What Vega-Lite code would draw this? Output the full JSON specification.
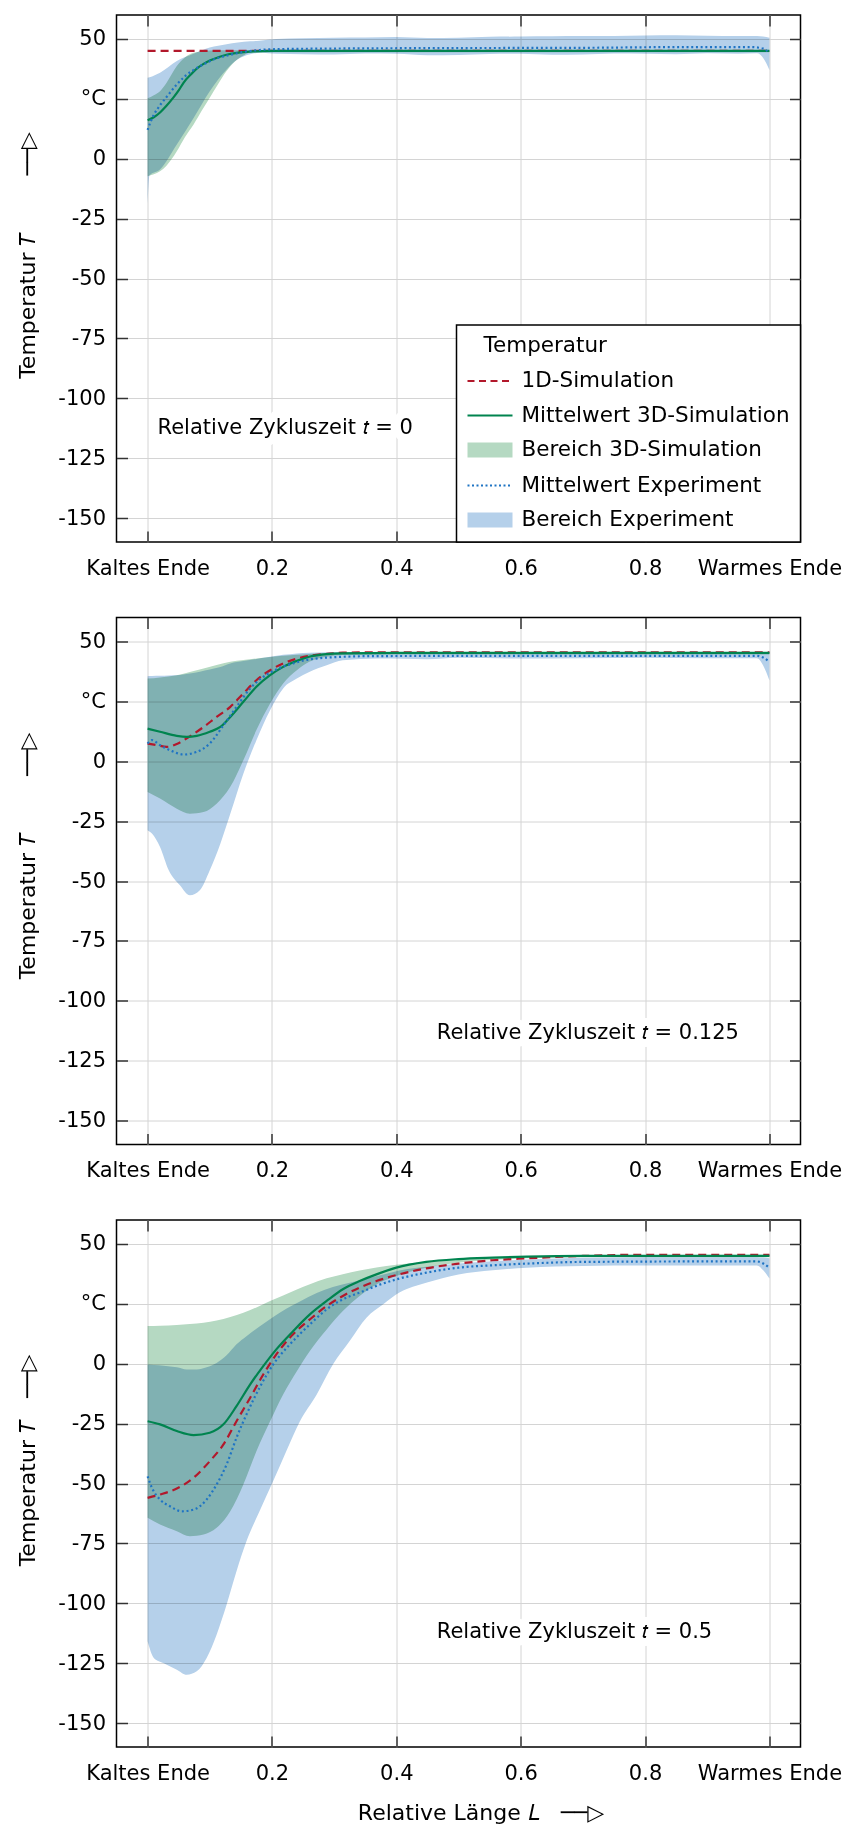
{
"$schema": "https://vega.github.io/schema/vega-lite/v6.json",
"background": "white",
"padding": {"left": 15.5, "top": 13, "right": 0, "bottom": 0},
"spacing": 36.5,
"resolve": {"scale": {"fill": "independent"}, "legend": {"fill": "independent"}},
"datasets": {
"lines": [
{"p":1,"series":"1D-Simulation","x":0,"y":45},{"p":1,"series":"1D-Simulation","x":1,"y":45},
{"p":1,"series":"Mittelwert 3D-Simulation","x":0,"y":16.1},{"p":1,"series":"Mittelwert 3D-Simulation","x":0.01,"y":17.3},{"p":1,"series":"Mittelwert 3D-Simulation","x":0.02,"y":19.3},{"p":1,"series":"Mittelwert 3D-Simulation","x":0.03,"y":22},{"p":1,"series":"Mittelwert 3D-Simulation","x":0.042,"y":25.7},{"p":1,"series":"Mittelwert 3D-Simulation","x":0.05,"y":28.5},{"p":1,"series":"Mittelwert 3D-Simulation","x":0.058,"y":31.8},{"p":1,"series":"Mittelwert 3D-Simulation","x":0.07,"y":35.3},{"p":1,"series":"Mittelwert 3D-Simulation","x":0.08,"y":37.8},{"p":1,"series":"Mittelwert 3D-Simulation","x":0.09,"y":39.6},{"p":1,"series":"Mittelwert 3D-Simulation","x":0.1,"y":41},{"p":1,"series":"Mittelwert 3D-Simulation","x":0.115,"y":42.5},{"p":1,"series":"Mittelwert 3D-Simulation","x":0.13,"y":43.6},{"p":1,"series":"Mittelwert 3D-Simulation","x":0.15,"y":44.4},{"p":1,"series":"Mittelwert 3D-Simulation","x":0.17,"y":44.8},{"p":1,"series":"Mittelwert 3D-Simulation","x":0.2,"y":45},{"p":1,"series":"Mittelwert 3D-Simulation","x":1,"y":45},
{"p":1,"series":"Mittelwert Experiment","x":0,"y":12},{"p":1,"series":"Mittelwert Experiment","x":0.005,"y":15.5},{"p":1,"series":"Mittelwert Experiment","x":0.01,"y":18.3},{"p":1,"series":"Mittelwert Experiment","x":0.02,"y":22.3},{"p":1,"series":"Mittelwert Experiment","x":0.03,"y":25.6},{"p":1,"series":"Mittelwert Experiment","x":0.047,"y":31},{"p":1,"series":"Mittelwert Experiment","x":0.06,"y":34.4},{"p":1,"series":"Mittelwert Experiment","x":0.075,"y":37.2},{"p":1,"series":"Mittelwert Experiment","x":0.09,"y":39.4},{"p":1,"series":"Mittelwert Experiment","x":0.11,"y":41.8},{"p":1,"series":"Mittelwert Experiment","x":0.13,"y":43.2},{"p":1,"series":"Mittelwert Experiment","x":0.155,"y":44.6},{"p":1,"series":"Mittelwert Experiment","x":0.18,"y":45.4},{"p":1,"series":"Mittelwert Experiment","x":0.2,"y":45.7},{"p":1,"series":"Mittelwert Experiment","x":0.3,"y":46},{"p":1,"series":"Mittelwert Experiment","x":0.5,"y":46.2},{"p":1,"series":"Mittelwert Experiment","x":0.7,"y":46.3},{"p":1,"series":"Mittelwert Experiment","x":0.85,"y":46.6},{"p":1,"series":"Mittelwert Experiment","x":0.97,"y":46.6},{"p":1,"series":"Mittelwert Experiment","x":0.99,"y":46},{"p":1,"series":"Mittelwert Experiment","x":1,"y":44},
{"p":2,"series":"1D-Simulation","x":0,"y":7.4},{"p":2,"series":"1D-Simulation","x":0.015,"y":6.7},{"p":2,"series":"1D-Simulation","x":0.031,"y":6},{"p":2,"series":"1D-Simulation","x":0.047,"y":7.2},{"p":2,"series":"1D-Simulation","x":0.068,"y":10.4},{"p":2,"series":"1D-Simulation","x":0.09,"y":14.3},{"p":2,"series":"1D-Simulation","x":0.111,"y":18.5},{"p":2,"series":"1D-Simulation","x":0.133,"y":22.7},{"p":2,"series":"1D-Simulation","x":0.154,"y":28.3},{"p":2,"series":"1D-Simulation","x":0.175,"y":33.8},{"p":2,"series":"1D-Simulation","x":0.197,"y":38},{"p":2,"series":"1D-Simulation","x":0.218,"y":40.8},{"p":2,"series":"1D-Simulation","x":0.24,"y":42.8},{"p":2,"series":"1D-Simulation","x":0.26,"y":44},{"p":2,"series":"1D-Simulation","x":0.288,"y":44.8},{"p":2,"series":"1D-Simulation","x":0.314,"y":45.3},{"p":2,"series":"1D-Simulation","x":0.4,"y":45.5},{"p":2,"series":"1D-Simulation","x":1,"y":45.5},
{"p":2,"series":"Mittelwert 3D-Simulation","x":0,"y":13.6},{"p":2,"series":"Mittelwert 3D-Simulation","x":0.02,"y":12.3},{"p":2,"series":"Mittelwert 3D-Simulation","x":0.047,"y":10.6},{"p":2,"series":"Mittelwert 3D-Simulation","x":0.063,"y":10.2},{"p":2,"series":"Mittelwert 3D-Simulation","x":0.079,"y":10.6},{"p":2,"series":"Mittelwert 3D-Simulation","x":0.1,"y":12.3},{"p":2,"series":"Mittelwert 3D-Simulation","x":0.117,"y":14.3},{"p":2,"series":"Mittelwert 3D-Simulation","x":0.133,"y":18.5},{"p":2,"series":"Mittelwert 3D-Simulation","x":0.154,"y":24.8},{"p":2,"series":"Mittelwert 3D-Simulation","x":0.175,"y":31.1},{"p":2,"series":"Mittelwert 3D-Simulation","x":0.197,"y":35.9},{"p":2,"series":"Mittelwert 3D-Simulation","x":0.218,"y":39.4},{"p":2,"series":"Mittelwert 3D-Simulation","x":0.24,"y":41.9},{"p":2,"series":"Mittelwert 3D-Simulation","x":0.26,"y":43.6},{"p":2,"series":"Mittelwert 3D-Simulation","x":0.288,"y":44.7},{"p":2,"series":"Mittelwert 3D-Simulation","x":0.314,"y":45},{"p":2,"series":"Mittelwert 3D-Simulation","x":0.4,"y":45.2},{"p":2,"series":"Mittelwert 3D-Simulation","x":1,"y":45.2},
{"p":2,"series":"Mittelwert Experiment","x":0,"y":7.4},{"p":2,"series":"Mittelwert Experiment","x":0.007,"y":8.8},{"p":2,"series":"Mittelwert Experiment","x":0.02,"y":6.7},{"p":2,"series":"Mittelwert Experiment","x":0.036,"y":4.6},{"p":2,"series":"Mittelwert Experiment","x":0.058,"y":2.8},{"p":2,"series":"Mittelwert Experiment","x":0.079,"y":3.9},{"p":2,"series":"Mittelwert Experiment","x":0.1,"y":7.4},{"p":2,"series":"Mittelwert Experiment","x":0.122,"y":15},{"p":2,"series":"Mittelwert Experiment","x":0.143,"y":22.7},{"p":2,"series":"Mittelwert Experiment","x":0.165,"y":30.4},{"p":2,"series":"Mittelwert Experiment","x":0.186,"y":35.2},{"p":2,"series":"Mittelwert Experiment","x":0.207,"y":38.3},{"p":2,"series":"Mittelwert Experiment","x":0.234,"y":40.8},{"p":2,"series":"Mittelwert Experiment","x":0.26,"y":42.5},{"p":2,"series":"Mittelwert Experiment","x":0.314,"y":43.6},{"p":2,"series":"Mittelwert Experiment","x":0.37,"y":43.9},{"p":2,"series":"Mittelwert Experiment","x":0.6,"y":44},{"p":2,"series":"Mittelwert Experiment","x":0.98,"y":44},{"p":2,"series":"Mittelwert Experiment","x":0.99,"y":43.3},{"p":2,"series":"Mittelwert Experiment","x":1,"y":41.5},
{"p":3,"series":"1D-Simulation","x":0,"y":-56},{"p":3,"series":"1D-Simulation","x":0.02,"y":-54.6},{"p":3,"series":"1D-Simulation","x":0.047,"y":-52.1},{"p":3,"series":"1D-Simulation","x":0.074,"y":-47.6},{"p":3,"series":"1D-Simulation","x":0.1,"y":-40.7},{"p":3,"series":"1D-Simulation","x":0.122,"y":-33.7},{"p":3,"series":"1D-Simulation","x":0.143,"y":-24},{"p":3,"series":"1D-Simulation","x":0.165,"y":-14.2},{"p":3,"series":"1D-Simulation","x":0.186,"y":-4.5},{"p":3,"series":"1D-Simulation","x":0.207,"y":3.9},{"p":3,"series":"1D-Simulation","x":0.234,"y":12.3},{"p":3,"series":"1D-Simulation","x":0.261,"y":18.5},{"p":3,"series":"1D-Simulation","x":0.288,"y":24.1},{"p":3,"series":"1D-Simulation","x":0.314,"y":28.3},{"p":3,"series":"1D-Simulation","x":0.341,"y":31.8},{"p":3,"series":"1D-Simulation","x":0.368,"y":34.5},{"p":3,"series":"1D-Simulation","x":0.4,"y":37},{"p":3,"series":"1D-Simulation","x":0.448,"y":39.8},{"p":3,"series":"1D-Simulation","x":0.5,"y":41.8},{"p":3,"series":"1D-Simulation","x":0.555,"y":43.2},{"p":3,"series":"1D-Simulation","x":0.61,"y":44},{"p":3,"series":"1D-Simulation","x":0.7,"y":45},{"p":3,"series":"1D-Simulation","x":0.8,"y":45.5},{"p":3,"series":"1D-Simulation","x":1,"y":45.5},
{"p":3,"series":"Mittelwert 3D-Simulation","x":0,"y":-24},{"p":3,"series":"Mittelwert 3D-Simulation","x":0.02,"y":-25.3},{"p":3,"series":"Mittelwert 3D-Simulation","x":0.047,"y":-28.1},{"p":3,"series":"Mittelwert 3D-Simulation","x":0.074,"y":-29.8},{"p":3,"series":"Mittelwert 3D-Simulation","x":0.1,"y":-28.8},{"p":3,"series":"Mittelwert 3D-Simulation","x":0.122,"y":-25.3},{"p":3,"series":"Mittelwert 3D-Simulation","x":0.143,"y":-17.7},{"p":3,"series":"Mittelwert 3D-Simulation","x":0.165,"y":-8.6},{"p":3,"series":"Mittelwert 3D-Simulation","x":0.186,"y":-1},{"p":3,"series":"Mittelwert 3D-Simulation","x":0.207,"y":6},{"p":3,"series":"Mittelwert 3D-Simulation","x":0.234,"y":13.6},{"p":3,"series":"Mittelwert 3D-Simulation","x":0.261,"y":20.6},{"p":3,"series":"Mittelwert 3D-Simulation","x":0.288,"y":26.2},{"p":3,"series":"Mittelwert 3D-Simulation","x":0.314,"y":31.1},{"p":3,"series":"Mittelwert 3D-Simulation","x":0.341,"y":34.5},{"p":3,"series":"Mittelwert 3D-Simulation","x":0.368,"y":37.3},{"p":3,"series":"Mittelwert 3D-Simulation","x":0.4,"y":40.1},{"p":3,"series":"Mittelwert 3D-Simulation","x":0.448,"y":42.5},{"p":3,"series":"Mittelwert 3D-Simulation","x":0.5,"y":43.7},{"p":3,"series":"Mittelwert 3D-Simulation","x":0.555,"y":44.3},{"p":3,"series":"Mittelwert 3D-Simulation","x":0.61,"y":44.7},{"p":3,"series":"Mittelwert 3D-Simulation","x":0.7,"y":45},{"p":3,"series":"Mittelwert 3D-Simulation","x":1,"y":45},
{"p":3,"series":"Mittelwert Experiment","x":0,"y":-47},{"p":3,"series":"Mittelwert Experiment","x":0.007,"y":-51.8},{"p":3,"series":"Mittelwert Experiment","x":0.02,"y":-56.7},{"p":3,"series":"Mittelwert Experiment","x":0.036,"y":-59.5},{"p":3,"series":"Mittelwert Experiment","x":0.055,"y":-61.6},{"p":3,"series":"Mittelwert Experiment","x":0.074,"y":-60.9},{"p":3,"series":"Mittelwert Experiment","x":0.095,"y":-56.7},{"p":3,"series":"Mittelwert Experiment","x":0.111,"y":-50.4},{"p":3,"series":"Mittelwert Experiment","x":0.127,"y":-42.1},{"p":3,"series":"Mittelwert Experiment","x":0.143,"y":-30.9},{"p":3,"series":"Mittelwert Experiment","x":0.159,"y":-21.2},{"p":3,"series":"Mittelwert Experiment","x":0.18,"y":-10},{"p":3,"series":"Mittelwert Experiment","x":0.202,"y":-0.3},{"p":3,"series":"Mittelwert Experiment","x":0.229,"y":8.1},{"p":3,"series":"Mittelwert Experiment","x":0.261,"y":16.4},{"p":3,"series":"Mittelwert Experiment","x":0.288,"y":22.7},{"p":3,"series":"Mittelwert Experiment","x":0.314,"y":26.9},{"p":3,"series":"Mittelwert Experiment","x":0.341,"y":29.7},{"p":3,"series":"Mittelwert Experiment","x":0.368,"y":32.5},{"p":3,"series":"Mittelwert Experiment","x":0.4,"y":35.2},{"p":3,"series":"Mittelwert Experiment","x":0.448,"y":38},{"p":3,"series":"Mittelwert Experiment","x":0.5,"y":40.1},{"p":3,"series":"Mittelwert Experiment","x":0.555,"y":41.1},{"p":3,"series":"Mittelwert Experiment","x":0.61,"y":41.8},{"p":3,"series":"Mittelwert Experiment","x":0.7,"y":42.5},{"p":3,"series":"Mittelwert Experiment","x":0.9,"y":42.7},{"p":3,"series":"Mittelwert Experiment","x":0.98,"y":42.7},{"p":3,"series":"Mittelwert Experiment","x":1,"y":40}
],
"bands": [
{"p":1,"series":"Bereich 3D-Simulation","x":0,"lo":-7.3,"hi":25.2},{"p":1,"series":"Bereich 3D-Simulation","x":0.01,"lo":-6.5,"hi":26.5},{"p":1,"series":"Bereich 3D-Simulation","x":0.02,"lo":-5.2,"hi":28.2},{"p":1,"series":"Bereich 3D-Simulation","x":0.03,"lo":-3,"hi":31.5},{"p":1,"series":"Bereich 3D-Simulation","x":0.047,"lo":3.1,"hi":38.7},{"p":1,"series":"Bereich 3D-Simulation","x":0.06,"lo":9,"hi":42.3},{"p":1,"series":"Bereich 3D-Simulation","x":0.074,"lo":14.3,"hi":44.2},{"p":1,"series":"Bereich 3D-Simulation","x":0.087,"lo":20,"hi":44.9},{"p":1,"series":"Bereich 3D-Simulation","x":0.1,"lo":25.5,"hi":45.2},{"p":1,"series":"Bereich 3D-Simulation","x":0.113,"lo":31,"hi":45.3},{"p":1,"series":"Bereich 3D-Simulation","x":0.127,"lo":36.6,"hi":45.3},{"p":1,"series":"Bereich 3D-Simulation","x":0.14,"lo":40.5,"hi":45.3},{"p":1,"series":"Bereich 3D-Simulation","x":0.155,"lo":43.2,"hi":45.3},{"p":1,"series":"Bereich 3D-Simulation","x":0.165,"lo":44.3,"hi":45.3},{"p":1,"series":"Bereich 3D-Simulation","x":0.2,"lo":44.5,"hi":45.3},{"p":1,"series":"Bereich 3D-Simulation","x":1,"lo":44.5,"hi":45.3},
{"p":1,"series":"Bereich Experiment","x":0,"lo":-20,"hi":33.8},{"p":1,"series":"Bereich Experiment","x":0.003,"lo":-7,"hi":34},{"p":1,"series":"Bereich Experiment","x":0.02,"lo":-4.5,"hi":35.9},{"p":1,"series":"Bereich Experiment","x":0.047,"lo":5.9,"hi":40.8},{"p":1,"series":"Bereich Experiment","x":0.074,"lo":17,"hi":43.8},{"p":1,"series":"Bereich Experiment","x":0.1,"lo":28.2,"hi":46.4},{"p":1,"series":"Bereich Experiment","x":0.127,"lo":37.3,"hi":47.8},{"p":1,"series":"Bereich Experiment","x":0.145,"lo":41.5,"hi":48.5},{"p":1,"series":"Bereich Experiment","x":0.165,"lo":43.6,"hi":49},{"p":1,"series":"Bereich Experiment","x":0.18,"lo":44.2,"hi":49.3},{"p":1,"series":"Bereich Experiment","x":0.207,"lo":43.8,"hi":50},{"p":1,"series":"Bereich Experiment","x":0.25,"lo":43.6,"hi":50.3},{"p":1,"series":"Bereich Experiment","x":0.3,"lo":43.5,"hi":50.5},{"p":1,"series":"Bereich Experiment","x":0.35,"lo":43.9,"hi":50.6},{"p":1,"series":"Bereich Experiment","x":0.4,"lo":43.8,"hi":50.8},{"p":1,"series":"Bereich Experiment","x":0.45,"lo":43.2,"hi":50.4},{"p":1,"series":"Bereich Experiment","x":0.5,"lo":43.3,"hi":50.5},{"p":1,"series":"Bereich Experiment","x":0.55,"lo":43.7,"hi":50.9},{"p":1,"series":"Bereich Experiment","x":0.6,"lo":43.8,"hi":51},{"p":1,"series":"Bereich Experiment","x":0.65,"lo":43.4,"hi":51.1},{"p":1,"series":"Bereich Experiment","x":0.7,"lo":43.5,"hi":51.2},{"p":1,"series":"Bereich Experiment","x":0.75,"lo":43.9,"hi":51.2},{"p":1,"series":"Bereich Experiment","x":0.8,"lo":43.8,"hi":51.4},{"p":1,"series":"Bereich Experiment","x":0.85,"lo":43.6,"hi":51.5},{"p":1,"series":"Bereich Experiment","x":0.9,"lo":44,"hi":51.3},{"p":1,"series":"Bereich Experiment","x":0.95,"lo":43.8,"hi":51.2},{"p":1,"series":"Bereich Experiment","x":0.98,"lo":44,"hi":51.2},{"p":1,"series":"Bereich Experiment","x":0.99,"lo":42,"hi":51},{"p":1,"series":"Bereich Experiment","x":1,"lo":37,"hi":50.5},
{"p":2,"series":"Bereich 3D-Simulation","x":0,"lo":-12.8,"hi":34.5},{"p":2,"series":"Bereich 3D-Simulation","x":0.02,"lo":-15.6,"hi":35},{"p":2,"series":"Bereich 3D-Simulation","x":0.047,"lo":-19.8,"hi":35.9},{"p":2,"series":"Bereich 3D-Simulation","x":0.068,"lo":-21.9,"hi":37.2},{"p":2,"series":"Bereich 3D-Simulation","x":0.09,"lo":-21.2,"hi":38.7},{"p":2,"series":"Bereich 3D-Simulation","x":0.111,"lo":-17.7,"hi":40.2},{"p":2,"series":"Bereich 3D-Simulation","x":0.133,"lo":-10.7,"hi":41.5},{"p":2,"series":"Bereich 3D-Simulation","x":0.154,"lo":0.4,"hi":42.3},{"p":2,"series":"Bereich 3D-Simulation","x":0.175,"lo":13,"hi":42.9},{"p":2,"series":"Bereich 3D-Simulation","x":0.197,"lo":24.1,"hi":43.5},{"p":2,"series":"Bereich 3D-Simulation","x":0.218,"lo":32.5,"hi":44},{"p":2,"series":"Bereich 3D-Simulation","x":0.24,"lo":38,"hi":44.4},{"p":2,"series":"Bereich 3D-Simulation","x":0.26,"lo":41.5,"hi":44.8},{"p":2,"series":"Bereich 3D-Simulation","x":0.288,"lo":43.6,"hi":45.1},{"p":2,"series":"Bereich 3D-Simulation","x":0.314,"lo":44.3,"hi":45.3},{"p":2,"series":"Bereich 3D-Simulation","x":0.4,"lo":44.6,"hi":45.5},{"p":2,"series":"Bereich 3D-Simulation","x":1,"lo":44.6,"hi":45.5},
{"p":2,"series":"Bereich Experiment","x":0,"lo":-28.8,"hi":35.5},{"p":2,"series":"Bereich Experiment","x":0.007,"lo":-30.2,"hi":35.6},{"p":2,"series":"Bereich Experiment","x":0.02,"lo":-35.8,"hi":35.7},{"p":2,"series":"Bereich Experiment","x":0.034,"lo":-45.5,"hi":35.8},{"p":2,"series":"Bereich Experiment","x":0.052,"lo":-51.8,"hi":36},{"p":2,"series":"Bereich Experiment","x":0.068,"lo":-56,"hi":36.6},{"p":2,"series":"Bereich Experiment","x":0.084,"lo":-53.9,"hi":37.4},{"p":2,"series":"Bereich Experiment","x":0.1,"lo":-45.5,"hi":38.3},{"p":2,"series":"Bereich Experiment","x":0.117,"lo":-34.4,"hi":39.3},{"p":2,"series":"Bereich Experiment","x":0.133,"lo":-21.9,"hi":40.8},{"p":2,"series":"Bereich Experiment","x":0.154,"lo":-5.2,"hi":41.8},{"p":2,"series":"Bereich Experiment","x":0.175,"lo":8.8,"hi":42.7},{"p":2,"series":"Bereich Experiment","x":0.197,"lo":21.3,"hi":43.6},{"p":2,"series":"Bereich Experiment","x":0.218,"lo":30.4,"hi":44.4},{"p":2,"series":"Bereich Experiment","x":0.24,"lo":34.5,"hi":45},{"p":2,"series":"Bereich Experiment","x":0.26,"lo":37.3,"hi":45.3},{"p":2,"series":"Bereich Experiment","x":0.288,"lo":40.1,"hi":45.5},{"p":2,"series":"Bereich Experiment","x":0.314,"lo":42.2,"hi":45.6},{"p":2,"series":"Bereich Experiment","x":0.37,"lo":42.9,"hi":45.6},{"p":2,"series":"Bereich Experiment","x":0.45,"lo":42.6,"hi":45.6},{"p":2,"series":"Bereich Experiment","x":0.5,"lo":43.2,"hi":45.6},{"p":2,"series":"Bereich Experiment","x":0.6,"lo":42.9,"hi":45.6},{"p":2,"series":"Bereich Experiment","x":0.7,"lo":43,"hi":45.6},{"p":2,"series":"Bereich Experiment","x":0.8,"lo":43.2,"hi":45.6},{"p":2,"series":"Bereich Experiment","x":0.9,"lo":43,"hi":45.6},{"p":2,"series":"Bereich Experiment","x":0.98,"lo":43,"hi":45.6},{"p":2,"series":"Bereich Experiment","x":0.99,"lo":40,"hi":45.4},{"p":2,"series":"Bereich Experiment","x":1,"lo":33.7,"hi":45},
{"p":3,"series":"Bereich 3D-Simulation","x":0,"lo":-64.3,"hi":15.7},{"p":3,"series":"Bereich 3D-Simulation","x":0.02,"lo":-67.1,"hi":15.9},{"p":3,"series":"Bereich 3D-Simulation","x":0.047,"lo":-69.9,"hi":16.2},{"p":3,"series":"Bereich 3D-Simulation","x":0.068,"lo":-72,"hi":16.6},{"p":3,"series":"Bereich 3D-Simulation","x":0.09,"lo":-71.3,"hi":17.1},{"p":3,"series":"Bereich 3D-Simulation","x":0.111,"lo":-68.5,"hi":18},{"p":3,"series":"Bereich 3D-Simulation","x":0.133,"lo":-61.6,"hi":19.5},{"p":3,"series":"Bereich 3D-Simulation","x":0.154,"lo":-50.4,"hi":21.3},{"p":3,"series":"Bereich 3D-Simulation","x":0.175,"lo":-36.5,"hi":23.5},{"p":3,"series":"Bereich 3D-Simulation","x":0.197,"lo":-24,"hi":26.2},{"p":3,"series":"Bereich 3D-Simulation","x":0.218,"lo":-12.8,"hi":28.5},{"p":3,"series":"Bereich 3D-Simulation","x":0.24,"lo":-3.1,"hi":31},{"p":3,"series":"Bereich 3D-Simulation","x":0.261,"lo":5.3,"hi":33.2},{"p":3,"series":"Bereich 3D-Simulation","x":0.288,"lo":14.3,"hi":35.7},{"p":3,"series":"Bereich 3D-Simulation","x":0.314,"lo":22,"hi":37.4},{"p":3,"series":"Bereich 3D-Simulation","x":0.341,"lo":28.3,"hi":38.9},{"p":3,"series":"Bereich 3D-Simulation","x":0.368,"lo":33.1,"hi":40.2},{"p":3,"series":"Bereich 3D-Simulation","x":0.4,"lo":36.6,"hi":41.3},{"p":3,"series":"Bereich 3D-Simulation","x":0.448,"lo":40.1,"hi":42.6},{"p":3,"series":"Bereich 3D-Simulation","x":0.5,"lo":42.2,"hi":43.5},{"p":3,"series":"Bereich 3D-Simulation","x":0.555,"lo":43.3,"hi":44.1},{"p":3,"series":"Bereich 3D-Simulation","x":0.61,"lo":44,"hi":44.6},{"p":3,"series":"Bereich 3D-Simulation","x":0.7,"lo":44.5,"hi":45.3},{"p":3,"series":"Bereich 3D-Simulation","x":1,"lo":44.5,"hi":45.5},
{"p":3,"series":"Bereich Experiment","x":0,"lo":-115.9,"hi":-0.3},{"p":3,"series":"Bereich Experiment","x":0.01,"lo":-122.8,"hi":-0.5},{"p":3,"series":"Bereich Experiment","x":0.026,"lo":-125,"hi":-0.8},{"p":3,"series":"Bereich Experiment","x":0.047,"lo":-127.7,"hi":-1.5},{"p":3,"series":"Bereich Experiment","x":0.063,"lo":-129.8,"hi":-2.4},{"p":3,"series":"Bereich Experiment","x":0.079,"lo":-128.4,"hi":-2.4},{"p":3,"series":"Bereich Experiment","x":0.095,"lo":-122.8,"hi":-1.5},{"p":3,"series":"Bereich Experiment","x":0.111,"lo":-113.1,"hi":0.3},{"p":3,"series":"Bereich Experiment","x":0.127,"lo":-100.6,"hi":3.5},{"p":3,"series":"Bereich Experiment","x":0.143,"lo":-86.6,"hi":8.1},{"p":3,"series":"Bereich Experiment","x":0.159,"lo":-74.1,"hi":11.5},{"p":3,"series":"Bereich Experiment","x":0.18,"lo":-61.6,"hi":15.5},{"p":3,"series":"Bereich Experiment","x":0.202,"lo":-49,"hi":19.5},{"p":3,"series":"Bereich Experiment","x":0.223,"lo":-36.5,"hi":23},{"p":3,"series":"Bereich Experiment","x":0.245,"lo":-24,"hi":26},{"p":3,"series":"Bereich Experiment","x":0.272,"lo":-12.8,"hi":29.5},{"p":3,"series":"Bereich Experiment","x":0.298,"lo":-0.3,"hi":32},{"p":3,"series":"Bereich Experiment","x":0.325,"lo":9.5,"hi":33.8},{"p":3,"series":"Bereich Experiment","x":0.352,"lo":19.2,"hi":35.5},{"p":3,"series":"Bereich Experiment","x":0.379,"lo":24.8,"hi":37.2},{"p":3,"series":"Bereich Experiment","x":0.405,"lo":29.7,"hi":38.9},{"p":3,"series":"Bereich Experiment","x":0.448,"lo":33.8,"hi":40.5},{"p":3,"series":"Bereich Experiment","x":0.5,"lo":37.3,"hi":41.8},{"p":3,"series":"Bereich Experiment","x":0.555,"lo":39,"hi":42.8},{"p":3,"series":"Bereich Experiment","x":0.61,"lo":40.1,"hi":43.5},{"p":3,"series":"Bereich Experiment","x":0.7,"lo":40.8,"hi":44.2},{"p":3,"series":"Bereich Experiment","x":0.8,"lo":41,"hi":44.4},{"p":3,"series":"Bereich Experiment","x":0.9,"lo":41,"hi":44.5},{"p":3,"series":"Bereich Experiment","x":0.98,"lo":41,"hi":44.5},{"p":3,"series":"Bereich Experiment","x":0.99,"lo":39,"hi":44.3},{"p":3,"series":"Bereich Experiment","x":1,"lo":35.6,"hi":44}
],
"notes": [
{"p":1,"x":0.016,"y":-112.5,"label":"Relative Zykluszeit 𝑡 = 0"},
{"p":2,"x":0.465,"y":-113.3,"label":"Relative Zykluszeit 𝑡 = 0.125"},
{"p":3,"x":0.465,"y":-111.8,"label":"Relative Zykluszeit 𝑡 = 0.5"}
]
},
"vconcat": [
{
"width": 684, "height": 527,
"resolve": {"axis": {"x": "independent", "y": "independent"}},
"layer": [
{"data": {"name": "bands"}, "transform": [{"filter": "datum.p == 1 && datum.series == 'Bereich 3D-Simulation'"}],
 "mark": {"type": "area", "interpolate": "monotone", "blend": "multiply"},
 "encoding": {
  "x": {"field": "x", "type": "quantitative", "scale": {"domain": [-0.05, 1.05], "nice": false, "zero": false}, "axis": {"values": [0,0.2,0.4,0.6,0.8,1], "labelExpr": "datum.value == 0 ? 'Kaltes Ende' : datum.value == 1 ? 'Warmes Ende' : format(datum.value, '.1f')", "title": null}},
  "y": {"field": "hi", "type": "quantitative", "scale": {"domain": [-160, 60], "nice": false, "zero": false}, "axis": {"values": [-150,-125,-100,-75,-50,-25,0,25,50], "labelExpr": "datum.value == 25 ? '°C' : '' + datum.value", "title": "Temperatur 𝑇\u00a0\u00a0\u00a0\u00a0\u00a0\u00a0\u00a0\u00a0──▷", "titleY": 240}},
  "y2": {"field": "lo"},
  "fill": {"field": "series", "type": "nominal",
   "scale": {"domain": ["1D-Simulation", "Mittelwert 3D-Simulation", "Bereich 3D-Simulation", "Mittelwert Experiment", "Bereich Experiment"], "range": ["#b2182b", "#00844f", "#b5d9c2", "#1f74c4", "#b5d0ea"]},
   "legend": {"title": "Temperatur", "orient": "bottom-right", "offset": 0, "padding": 10, "fillColor": "white", "strokeColor": "black",
    "titleFontSize": 21.5, "titleFontWeight": "normal", "titleColor": "#000", "labelFontSize": 21.5, "labelColor": "#000", "symbolSize": 2025, "symbolStrokeWidth": 2, "rowPadding": 0.5, "labelOffset": 8, "titlePadding": 1, "labelLimit": 400,
    "encode": {
     "symbols": {"update": {
       "shape": {"signal": "indexof(datum.value, 'Bereich') == 0 ? 'M-1,-0.33H1V0.33H-1Z' : 'stroke'"},
       "fill": {"signal": "datum.value == 'Bereich 3D-Simulation' ? '#b5d9c2' : datum.value == 'Bereich Experiment' ? '#b5d0ea' : 'transparent'"},
       "stroke": {"signal": "datum.value == '1D-Simulation' ? '#b2182b' : datum.value == 'Mittelwert 3D-Simulation' ? '#00844f' : datum.value == 'Mittelwert Experiment' ? '#1f74c4' : 'transparent'"},
       "strokeDash": {"signal": "datum.value == '1D-Simulation' ? [7, 4.5] : datum.value == 'Mittelwert Experiment' ? [2, 2.5] : [1, 0]"},
       "strokeWidth": {"value": 2},
       "opacity": {"value": 1}
     }},
     "title": {"update": {"dx": {"value": 17}}},
     "legend": {"update": {"strokeWidth": {"value": 1.5}}}
    }}
  }
 }
},
{"data": {"name": "bands"}, "transform": [{"filter": "datum.p == 1 && datum.series == 'Bereich Experiment'"}],
 "mark": {"type": "area", "interpolate": "monotone", "blend": "multiply", "fill": "#b5d0ea"},
 "encoding": {"x": {"field": "x", "type": "quantitative", "axis": null}, "y": {"field": "hi", "type": "quantitative", "axis": null}, "y2": {"field": "lo"}}
},
{"data": {"name": "lines"}, "transform": [{"filter": "datum.p == 1 && datum.series == '1D-Simulation'"}],
 "mark": {"type": "line", "interpolate": "monotone", "stroke": "#b2182b", "strokeWidth": 2.2, "strokeDash": [8, 5]},
 "encoding": {"x": {"field": "x", "type": "quantitative", "axis": null}, "y": {"field": "y", "type": "quantitative", "axis": null}}
},
{"data": {"name": "lines"}, "transform": [{"filter": "datum.p == 1 && datum.series == 'Mittelwert 3D-Simulation'"}],
 "mark": {"type": "line", "interpolate": "monotone", "stroke": "#00844f", "strokeWidth": 2.2},
 "encoding": {"x": {"field": "x", "type": "quantitative", "axis": null}, "y": {"field": "y", "type": "quantitative", "axis": null}}
},
{"data": {"name": "lines"}, "transform": [{"filter": "datum.p == 1 && datum.series == 'Mittelwert Experiment'"}],
 "mark": {"type": "line", "interpolate": "monotone", "stroke": "#1f74c4", "strokeWidth": 2.2, "strokeDash": [2, 2.7]},
 "encoding": {"x": {"field": "x", "type": "quantitative", "axis": null}, "y": {"field": "y", "type": "quantitative", "axis": null}}
},
{"data": {"name": "notes"}, "transform": [{"filter": "datum.p == 1"}],
 "mark": {"type": "text", "align": "left", "baseline": "middle", "fontSize": 21, "color": "white", "stroke": "white", "strokeWidth": 16, "strokeJoin": "round"},
 "encoding": {"x": {"field": "x", "type": "quantitative", "axis": null}, "y": {"field": "y", "type": "quantitative", "axis": null}, "text": {"field": "label"}}
},
{"data": {"name": "notes"}, "transform": [{"filter": "datum.p == 1"}],
 "mark": {"type": "text", "align": "left", "baseline": "middle", "fontSize": 21, "color": "#000"},
 "encoding": {"x": {"field": "x", "type": "quantitative", "axis": {"orient": "top", "labels": false, "grid": false, "title": null, "values": [0,0.2,0.4,0.6,0.8,1]}},
  "y": {"field": "y", "type": "quantitative", "axis": {"orient": "right", "labels": false, "grid": false, "title": null, "values": [-150,-125,-100,-75,-50,-25,0,25,50]}},
  "text": {"field": "label"}}
}
]
},
{
"width": 684, "height": 527,
"resolve": {"axis": {"x": "independent", "y": "independent"}},
"layer": [
{"data": {"name": "bands"}, "transform": [{"filter": "datum.p == 2 && datum.series == 'Bereich 3D-Simulation'"}],
 "mark": {"type": "area", "interpolate": "monotone", "blend": "multiply", "fill": "#b5d9c2"},
 "encoding": {
  "x": {"field": "x", "type": "quantitative", "scale": {"domain": [-0.05, 1.05], "nice": false, "zero": false}, "axis": {"values": [0,0.2,0.4,0.6,0.8,1], "labelExpr": "datum.value == 0 ? 'Kaltes Ende' : datum.value == 1 ? 'Warmes Ende' : format(datum.value, '.1f')", "title": null}},
  "y": {"field": "hi", "type": "quantitative", "scale": {"domain": [-160, 60], "nice": false, "zero": false}, "axis": {"values": [-150,-125,-100,-75,-50,-25,0,25,50], "labelExpr": "datum.value == 25 ? '°C' : '' + datum.value", "title": "Temperatur 𝑇\u00a0\u00a0\u00a0\u00a0\u00a0\u00a0\u00a0\u00a0──▷", "titleY": 238}},
  "y2": {"field": "lo"}
 }
},
{"data": {"name": "bands"}, "transform": [{"filter": "datum.p == 2 && datum.series == 'Bereich Experiment'"}],
 "mark": {"type": "area", "interpolate": "monotone", "blend": "multiply", "fill": "#b5d0ea"},
 "encoding": {"x": {"field": "x", "type": "quantitative", "axis": null}, "y": {"field": "hi", "type": "quantitative", "axis": null}, "y2": {"field": "lo"}}
},
{"data": {"name": "lines"}, "transform": [{"filter": "datum.p == 2 && datum.series == '1D-Simulation'"}],
 "mark": {"type": "line", "interpolate": "monotone", "stroke": "#b2182b", "strokeWidth": 2.2, "strokeDash": [8, 5]},
 "encoding": {"x": {"field": "x", "type": "quantitative", "axis": null}, "y": {"field": "y", "type": "quantitative", "axis": null}}
},
{"data": {"name": "lines"}, "transform": [{"filter": "datum.p == 2 && datum.series == 'Mittelwert 3D-Simulation'"}],
 "mark": {"type": "line", "interpolate": "monotone", "stroke": "#00844f", "strokeWidth": 2.2},
 "encoding": {"x": {"field": "x", "type": "quantitative", "axis": null}, "y": {"field": "y", "type": "quantitative", "axis": null}}
},
{"data": {"name": "lines"}, "transform": [{"filter": "datum.p == 2 && datum.series == 'Mittelwert Experiment'"}],
 "mark": {"type": "line", "interpolate": "monotone", "stroke": "#1f74c4", "strokeWidth": 2.2, "strokeDash": [2, 2.7]},
 "encoding": {"x": {"field": "x", "type": "quantitative", "axis": null}, "y": {"field": "y", "type": "quantitative", "axis": null}}
},
{"data": {"name": "notes"}, "transform": [{"filter": "datum.p == 2"}],
 "mark": {"type": "text", "align": "left", "baseline": "middle", "fontSize": 21, "color": "white", "stroke": "white", "strokeWidth": 16, "strokeJoin": "round"},
 "encoding": {"x": {"field": "x", "type": "quantitative", "axis": null}, "y": {"field": "y", "type": "quantitative", "axis": null}, "text": {"field": "label"}}
},
{"data": {"name": "notes"}, "transform": [{"filter": "datum.p == 2"}],
 "mark": {"type": "text", "align": "left", "baseline": "middle", "fontSize": 21, "color": "#000"},
 "encoding": {"x": {"field": "x", "type": "quantitative", "axis": {"orient": "top", "labels": false, "grid": false, "title": null, "values": [0,0.2,0.4,0.6,0.8,1]}},
  "y": {"field": "y", "type": "quantitative", "axis": {"orient": "right", "labels": false, "grid": false, "title": null, "values": [-150,-125,-100,-75,-50,-25,0,25,50]}},
  "text": {"field": "label"}}
}
]
},
{
"width": 684, "height": 527,
"resolve": {"axis": {"x": "independent", "y": "independent"}},
"layer": [
{"data": {"name": "bands"}, "transform": [{"filter": "datum.p == 3 && datum.series == 'Bereich 3D-Simulation'"}],
 "mark": {"type": "area", "interpolate": "monotone", "blend": "multiply", "fill": "#b5d9c2"},
 "encoding": {
  "x": {"field": "x", "type": "quantitative", "scale": {"domain": [-0.05, 1.05], "nice": false, "zero": false}, "axis": {"values": [0,0.2,0.4,0.6,0.8,1], "labelExpr": "datum.value == 0 ? 'Kaltes Ende' : datum.value == 1 ? 'Warmes Ende' : format(datum.value, '.1f')", "title": "Relative Länge 𝐿\u00a0\u00a0\u00a0──▷", "titlePadding": 19, "titleX": 364}},
  "y": {"field": "hi", "type": "quantitative", "scale": {"domain": [-160, 60], "nice": false, "zero": false}, "axis": {"values": [-150,-125,-100,-75,-50,-25,0,25,50], "labelExpr": "datum.value == 25 ? '°C' : '' + datum.value", "title": "Temperatur 𝑇\u00a0\u00a0\u00a0──▷", "titleY": 240}},
  "y2": {"field": "lo"}
 }
},
{"data": {"name": "bands"}, "transform": [{"filter": "datum.p == 3 && datum.series == 'Bereich Experiment'"}],
 "mark": {"type": "area", "interpolate": "monotone", "blend": "multiply", "fill": "#b5d0ea"},
 "encoding": {"x": {"field": "x", "type": "quantitative", "axis": null}, "y": {"field": "hi", "type": "quantitative", "axis": null}, "y2": {"field": "lo"}}
},
{"data": {"name": "lines"}, "transform": [{"filter": "datum.p == 3 && datum.series == '1D-Simulation'"}],
 "mark": {"type": "line", "interpolate": "monotone", "stroke": "#b2182b", "strokeWidth": 2.2, "strokeDash": [8, 5]},
 "encoding": {"x": {"field": "x", "type": "quantitative", "axis": null}, "y": {"field": "y", "type": "quantitative", "axis": null}}
},
{"data": {"name": "lines"}, "transform": [{"filter": "datum.p == 3 && datum.series == 'Mittelwert 3D-Simulation'"}],
 "mark": {"type": "line", "interpolate": "monotone", "stroke": "#00844f", "strokeWidth": 2.2},
 "encoding": {"x": {"field": "x", "type": "quantitative", "axis": null}, "y": {"field": "y", "type": "quantitative", "axis": null}}
},
{"data": {"name": "lines"}, "transform": [{"filter": "datum.p == 3 && datum.series == 'Mittelwert Experiment'"}],
 "mark": {"type": "line", "interpolate": "monotone", "stroke": "#1f74c4", "strokeWidth": 2.2, "strokeDash": [2, 2.7]},
 "encoding": {"x": {"field": "x", "type": "quantitative", "axis": null}, "y": {"field": "y", "type": "quantitative", "axis": null}}
},
{"data": {"name": "notes"}, "transform": [{"filter": "datum.p == 3"}],
 "mark": {"type": "text", "align": "left", "baseline": "middle", "fontSize": 21, "color": "white", "stroke": "white", "strokeWidth": 16, "strokeJoin": "round"},
 "encoding": {"x": {"field": "x", "type": "quantitative", "axis": null}, "y": {"field": "y", "type": "quantitative", "axis": null}, "text": {"field": "label"}}
},
{"data": {"name": "notes"}, "transform": [{"filter": "datum.p == 3"}],
 "mark": {"type": "text", "align": "left", "baseline": "middle", "fontSize": 21, "color": "#000"},
 "encoding": {"x": {"field": "x", "type": "quantitative", "axis": {"orient": "top", "labels": false, "grid": false, "title": null, "values": [0,0.2,0.4,0.6,0.8,1]}},
  "y": {"field": "y", "type": "quantitative", "axis": {"orient": "right", "labels": false, "grid": false, "title": null, "values": [-150,-125,-100,-75,-50,-25,0,25,50]}},
  "text": {"field": "label"}}
}
]
}
],
"config": {
 "font": "DejaVu Sans",
 "view": {"stroke": "#000", "strokeWidth": 1.5},
 "axis": {"domain": false, "grid": true, "gridColor": "#d4d4d4", "gridWidth": 1, "ticks": true, "tickSize": -11, "tickColor": "#333", "tickWidth": 1.5, "labelFontSize": 21, "labelColor": "#000", "labelFlush": false, "labelOverlap": false, "titleFontSize": 22, "titleFontWeight": "normal", "titleColor": "#000"},
 "axisX": {"labelPadding": 26},
 "axisY": {"labelPadding": 22, "titlePadding": 18}
}
}
